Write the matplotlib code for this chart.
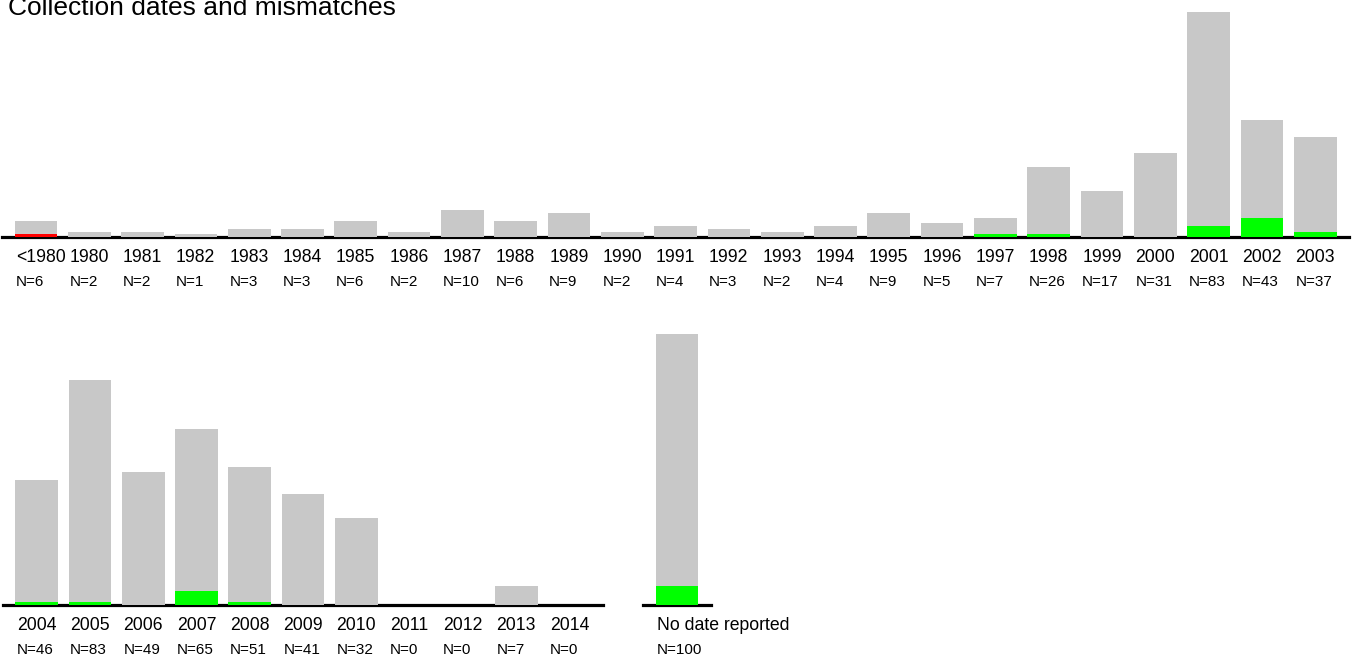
import matplotlib
matplotlib.use("Agg")
import matplotlib.pyplot as plt

# ---- data ----
top_labels = ['<1980', '1980', '1981', '1982', '1983', '1984', '1985', '1986', '1987',
              '1988', '1989', '1990', '1991', '1992', '1993', '1994', '1995', '1996',
              '1997', '1998', '1999', '2000', '2001', '2002', '2003']
top_n = [6, 2, 2, 1, 3, 3, 6, 2, 10, 6, 9, 2, 4, 3, 2, 4, 9, 5, 7, 26, 17, 31, 83, 43, 37]
top_mismatch = [1, 0, 0, 0, 0, 0, 0, 0, 0, 0, 0, 0, 0, 0, 0, 0, 0, 0, 1, 1, 0, 0, 4, 7, 2]
top_mismatch_colors = ['#FF0000'] + ['#00FF00'] * 24

bot_labels = ['2004', '2005', '2006', '2007', '2008', '2009', '2010', '2011', '2012', '2013', '2014']
bot_n = [46, 83, 49, 65, 51, 41, 32, 0, 0, 7, 0]
bot_mismatch = [1, 1, 0, 5, 1, 0, 0, 0, 0, 0, 0]

nodate_labels = ['No date reported']
nodate_n = [100]
nodate_mismatch = [7]

title = 'Collection dates and mismatches'

# ---- style ----
GRAY = '#C8C8C8'
GREEN = '#00FF00'
W, H = 1358, 657
PITCH = 53.3     # px per category
K = 2.71         # px per count
FONT = 'Liberation Sans'

fig = plt.figure(figsize=(W / 100, H / 100), dpi=100)


def make_axes(center0, n_cat, base_img_y, ytop):
    left = center0 - 0.63 * PITCH
    width = (n_cat - 1 + 1.26) * PITCH
    height = ytop * K
    ax = fig.add_axes([left / W, (H - base_img_y) / H, width / W, height / H])
    ax.set_xlim(-0.63, n_cat - 1 + 0.63)
    ax.set_ylim(0, ytop)
    ax.axis('off')
    return ax


def draw(ax, labels, n, mism, mcolors):
    x = list(range(len(labels)))
    ax.axhline(0, color='black', lw=2.3, zorder=1, clip_on=False)
    ax.bar(x, n, width=0.8, color=GRAY, zorder=2, linewidth=0)
    ax.bar(x, mism, width=0.8, color=mcolors, zorder=3, linewidth=0)
    for i, (lab, v) in enumerate(zip(labels, n)):
        ax.annotate(lab, xy=(i - 0.4, 0), xycoords='data', xytext=(1.5, -24.5),
                    textcoords='offset pixels', ha='left', va='baseline',
                    fontsize=12.7, family=FONT, annotation_clip=False)
        ax.annotate(f'N={v}', xy=(i - 0.4, 0), xycoords='data', xytext=(1.5, -49.3),
                    textcoords='offset pixels', ha='left', va='baseline',
                    fontsize=11, family=FONT, annotation_clip=False)


ax_top = make_axes(36.0, len(top_labels), 237, 87)
draw(ax_top, top_labels, top_n, top_mismatch, top_mismatch_colors)

ax_bot = make_axes(36.6, len(bot_labels), 605, 105)
draw(ax_bot, bot_labels, bot_n, bot_mismatch, [GREEN] * len(bot_labels))

ax_nd = make_axes(677, 1, 605, 105)
draw(ax_nd, nodate_labels, nodate_n, nodate_mismatch, [GREEN])

fig.text(8.5 / W, (H - 15) / H, title, ha='left', va='baseline', fontsize=19, family=FONT)

fig.savefig('out.png', dpi=100)
